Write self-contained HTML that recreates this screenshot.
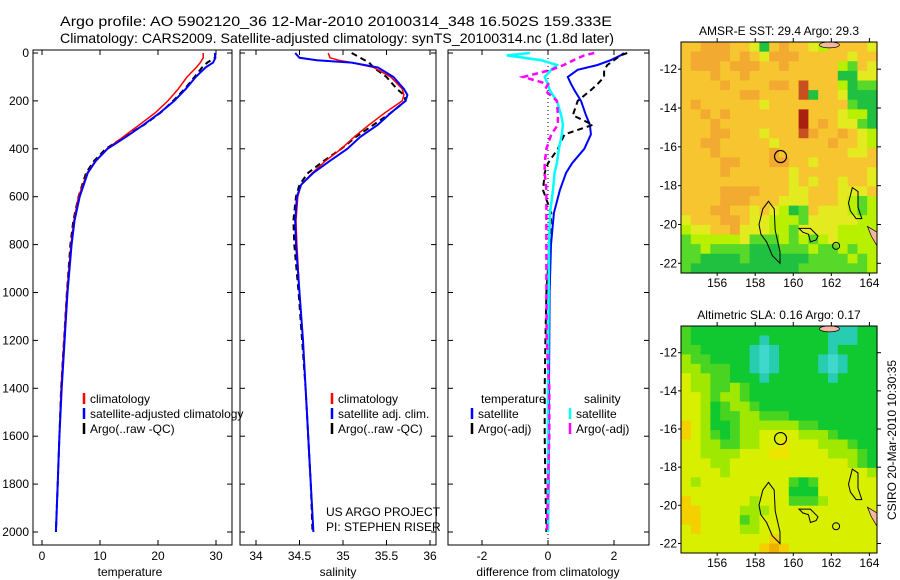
<!DOCTYPE html>
<html><head><meta charset="utf-8">
<style>
html,body{margin:0;padding:0;background:#fff;}
svg{display:block;font-family:"Liberation Sans",sans-serif;}
</style></head>
<body>
<svg id="fig" width="900" height="580" viewBox="0 0 900 580">
<rect width="900" height="580" fill="#fff"/>
<text x="336" y="26" font-size="14" text-anchor="middle" textLength="552" lengthAdjust="spacingAndGlyphs">Argo profile: AO 5902120_36 12-Mar-2010 20100314_348 16.502S 159.333E</text>
<text x="337" y="43" font-size="14" text-anchor="middle" textLength="554" lengthAdjust="spacingAndGlyphs">Climatology: CARS2009. Satellite-adjusted climatology: synTS_20100314.nc (1.8d later)</text>
<g id="plots"></g>
</svg>
<script>
// ---------- profile data ----------
const depthTicks = [0,200,400,600,800,1000,1200,1400,1600,1800,2000];
const tempTicks = [0,10,20,30];
const salTicks = [34,34.5,35,35.5,36];
const diffTicks = [-2,0,2];

const tDepth = [0,20,40,60,100,150,200,250,300,350,400,450,500,600,700,800,1000,1200,1400,1600,1800,2000];
const tClim  = [27.8,27.8,27.3,26.6,25.0,23.5,21.7,19.5,16.8,14.0,11.2,9.2,7.8,6.3,5.5,5.0,4.3,3.8,3.3,3.0,2.7,2.4];
const tSat   = [29.8,29.9,29.5,28.2,26.5,24.8,22.8,20.3,17.5,14.5,11.3,9.3,7.9,6.5,5.6,5.1,4.4,3.9,3.4,3.0,2.7,2.4];
const tArgo  = [29.9,29.8,28.5,27.6,26.3,24.6,22.6,20.4,17.6,14.2,11.0,9.0,7.6,6.3,5.4,4.9,4.3,3.8,3.3,3.0,2.7,2.4];

const sDepth = [0,20,30,40,60,100,150,175,200,250,300,350,400,450,500,550,600,700,800,1000,1200,1400,1600,1800,2000];
const sClim  = [34.83,34.85,34.95,35.1,35.35,35.55,35.68,35.7,35.68,35.48,35.3,35.13,34.98,34.8,34.65,34.52,34.48,34.46,34.47,34.5,34.54,34.57,34.6,34.63,34.66];
const sSat   = [34.45,34.5,34.7,35.1,35.4,35.58,35.7,35.74,35.72,35.55,35.4,35.2,35.05,34.85,34.66,34.52,34.47,34.45,34.46,34.5,34.54,34.57,34.6,34.63,34.66];
const sArgo  = [35.1,35.2,35.25,35.3,35.35,35.5,35.62,35.7,35.72,35.55,35.35,35.15,34.98,34.78,34.6,34.5,34.46,34.43,34.44,34.49,34.53,34.57,34.6,34.63,34.65];

const dDepth = [0,10,30,50,70,100,130,155,200,260,300,340,400,460,500,572,668,800,1000,1200,1400,1600,1800,2000];
const dTSat  = [2.3,2.2,1.9,1.5,0.9,0.6,0.7,0.8,1.0,1.15,1.27,1.3,1.1,0.73,0.55,0.36,0.18,0.09,0.05,0.04,0.03,0.02,0.02,0.0];
const dTArgo = [2.4,2.2,2.0,1.8,1.7,1.7,1.5,1.3,0.9,0.75,1.36,0.5,0.3,0.0,-0.1,-0.15,0.1,0.05,-0.05,-0.08,-0.1,-0.1,-0.08,-0.05];
const dSSat  = [-0.55,-1.25,-0.2,0.27,0.1,-0.1,0.0,0.05,0.27,0.4,0.45,0.42,0.33,0.27,0.2,0.15,0.06,0.03,0.02,0.01,0.0,0.0,0.0,0.0];
const dSArgo = [1.4,1.1,0.77,0.48,0.1,-0.75,0.0,-0.1,0.27,0.3,0.3,0.1,-0.05,-0.1,-0.1,-0.05,-0.05,-0.05,-0.05,-0.04,0.04,0.04,0.0,-0.03];

// ---------- map data ----------
const mapLon = [154.1,164.4];
const mapLatTicks = [-12,-14,-16,-18,-20,-22];
const mapLonTicks = [156,158,160,162,164];
const sstRows = [
"ooOOOooyGoOooylooooy","oOOOOoOoyOOOoooooyoo","oOOOoOOOooOooooolgoy","oooOooOoooooooooGGyy",
"ooooOooooOOorooolGgg","ooooooOOoooorGooyGGG","oOooooooyoooooooogGG","ooOoOoooooooRoooyllG",
"oooOooooooooRoOoyygG","oooOOoooyooorOooOoyl","ooOOoooooyoooooOooyl","oooOoooooOoooooooyyo",
"ooooOOoooOOooyoooooo","ooooOooooooyoooooooy","oooooooooooyoyooyooy","ooooOOOOoooyyoooyyyo",
"ooooOOOoooyyyoooylgl","oooOOooyoylGgoyyylgl","yoooOOoyylllgyyyyyll","lyyooOyyyllgyyyyllll",
"glllllyggglglglyllll","gglggggGGGggglgglgll","ggGGGGgGGGGGGgggglgl","gGGGGGGGGGGGgggggggl"];
const sstColors = {O:"#f2aa30",o:"#f6c530",y:"#e4ea20",l:"#b8f000",g:"#58d828",G:"#20c040",r:"#c85020",R:"#a82010"};
const slaRows = [
"gGGGGGGGGGGGGGGtttGG","gGGGGGGGtGGGGGGtttGG","ggGGGGGtTtGGGGGtGGGG","lggGGGGtTtGGGGtTtGGG",
"llgggGGtTtGGGGtTtGGG","yllggGGGtGGGGGGtGGGG","yllgglgGGGGGGGGGGGGG","yylgllgGGGGGGGGGGGGG",
"yylGgllgGGGGGGGGGGGG","yylGggllgggGGGGGGGGG","oylGGgllllllggGGGGGG","oylgGgllyyyylllgGGGG",
"yyllggllyyYyyylllgGG","yyllllyyyYYyyyylllgG","yyyllyyyyyyyyyyyylgG","yyyylyyyyyyyyyyyyyyl",
"ylyyyyyyyyygGgyyyyyy","yyyyyyyyyyyGGGyyyyyy","oyyyyyylyyyggglyyyyy","ooyyyylllyyyyyyyyyyy",
"ooyyyyglyyyyyyyyyyyy","yoyyyyllyyyyyyyyyyyy","yyyyyyyyyoyyyyyyyyyy","yyyyyyyyoOoyyyyyyyyy"];
const slaColors = {G:"#10c830",g:"#48d420",l:"#a0e800",y:"#d8f000",Y:"#eee400",o:"#f4d000",O:"#f0b000",t:"#28ccb0",T:"#40d8cc"};
const island1 = [[158.2,-20.0],[158.4,-19.2],[158.7,-18.8],[159.0,-19.2],[159.05,-20.3],[159.3,-21.4],[159.3,-22.0],[158.9,-21.6],[158.6,-20.9],[158.3,-20.5]];
const island2 = [[162.9,-18.9],[163.1,-18.1],[163.4,-18.3],[163.4,-19.1],[163.6,-19.7],[163.3,-19.7],[163.0,-19.3]];
const island3 = [[160.3,-20.2],[160.9,-20.2],[161.3,-20.6],[161.2,-20.8],[160.9,-20.9],[160.8,-20.5],[160.5,-20.4]];
const argoPos = [159.33,-16.5];

const NS="http://www.w3.org/2000/svg";
const root=document.getElementById('plots');
function mk(tag,attrs,parent){const e=document.createElementNS(NS,tag);for(const k in attrs)e.setAttribute(k,attrs[k]);(parent||root).appendChild(e);return e;}
function txt(x,y,s,size,anchor,parent){const t=mk('text',{x:x,y:y,'font-size':size,'text-anchor':anchor||'start'},parent);t.textContent=s;return t;}

const Y0=53, Y1=532, PT=50, PB=545;
const yD = d => Y0 + d*(Y1-Y0)/2000;
const panels = [
 {x0:33,x1:232,fx:v=>42+v*5.8,ticks:tempTicks,name:'temperature-panel',label:'temperature',lx:130},
 {x0:240,x1:436,fx:v=>256+(v-34)*87,ticks:salTicks,name:'salinity-panel',label:'salinity',lx:338},
 {x0:448,x1:649,fx:v=>548+v*33,ticks:diffTicks,name:'difference-panel',label:'difference from climatology',lx:548}
];
panels.forEach((p,pi)=>{
  const g=mk('g',{});
  
  
  const fr=mk('rect',{x:p.x0,y:PT,width:p.x1-p.x0,height:PB-PT,fill:'none',stroke:'#000','stroke-width':1},g);
  
  
  depthTicks.forEach(d=>{
    mk('line',{x1:p.x0,x2:p.x0+5,y1:yD(d),y2:yD(d),stroke:'#000'},g);
    mk('line',{x1:p.x1,x2:p.x1-5,y1:yD(d),y2:yD(d),stroke:'#000'},g);
    if(pi===0){const t=txt(p.x0-4,yD(d)+4,String(d),12,'end',g);
      
      }
  });
  p.ticks.forEach(v=>{
    const x=p.fx(v);
    mk('line',{x1:x,x2:x,y1:PT,y2:PT+5,stroke:'#000'},g);
    mk('line',{x1:x,x2:x,y1:PB,y2:PB-5,stroke:'#000'},g);
    const t=txt(x,560,String(v),12,'middle',g);
    
    
  });
  const xl=txt(p.lx,576,p.label,12,'middle',g);
  
  
});
function line(depths,vals,fx,color,w,dash,name){
  const pts=depths.map((d,i)=>fx(vals[i]).toFixed(1)+','+yD(d).toFixed(1)).join(' ');
  const a={points:pts,fill:'none',stroke:color,'stroke-width':w};
  if(dash)a['stroke-dasharray']=dash;
  const e=mk('polyline',a);
  
  
}
const zl=mk('line',{x1:548,x2:548,y1:PT,y2:PB,stroke:'#000','stroke-dasharray':'1,3'});


line(tDepth,tArgo,panels[0].fx,'#000',2,'6,4','temp-argo-line');
line(tDepth,tClim,panels[0].fx,'#f00',1.5,null,'temp-climatology-line');
line(tDepth,tSat,panels[0].fx,'#00f',2,null,'temp-satellite-line');
line(sDepth,sArgo,panels[1].fx,'#000',2,'6,4','sal-argo-line');
line(sDepth,sClim,panels[1].fx,'#f00',1.5,null,'sal-climatology-line');
line(sDepth,sSat,panels[1].fx,'#00f',2,null,'sal-satellite-line');
line(dDepth,dTSat,panels[2].fx,'#00f',2,null,'diff-temp-satellite-line');
line(dDepth,dTArgo,panels[2].fx,'#000',2,'6,4','diff-temp-argo-line');
line(dDepth,dSSat,panels[2].fx,'#00ffff',2.5,null,'diff-sal-satellite-line');
line(dDepth,dSArgo,panels[2].fx,'#ff00ff',2.5,'6,4','diff-sal-argo-line');

function leg(x,y,color,label){
  const g=mk('g',{});
  
  
  if(color)mk('line',{x1:x,x2:x,y1:y-10,y2:y+1,stroke:color,'stroke-width':2.5},g);
  txt(x+6,y,label,12,'start',g);
}
leg(84,403,'#f00','climatology');leg(84,418,'#00f','satellite-adjusted climatology');leg(84,433,'#000','Argo(..raw -QC)');
leg(332,403,'#f00','climatology');leg(332,418,'#00f','satellite adj. clim.');leg(332,433,'#000','Argo(..raw -QC)');
leg(475,403,null,'temperature');leg(472,418,'#00f','satellite');leg(472,433,'#000','Argo(-adj)');
leg(578,403,null,'salinity');leg(570,418,'#00ffff','satellite');leg(570,433,'#ff00ff','Argo(-adj)');
const cr1=txt(326,516,'US ARGO PROJECT',12);
const cr2=txt(326,531,'PI: STEPHEN RISER',12);

function drawMap(top,bottom,rows,colors,title,name){
  const x0=681,x1=877,latTop=-10.6,latBot=-22.5;
  const fx=lon=>x0+(lon-mapLon[0])*(x1-x0)/(mapLon[1]-mapLon[0]);
  const fy=lat=>top+(latTop-lat)*(bottom-top)/(latTop-latBot);
  const g=mk('g',{});
  
  
  const nr=rows.length,nc=rows[0].length,cw=(x1-x0)/nc,ch=(bottom-top)/nr;
  rows.forEach((r,i)=>{for(let j=0;j<nc;j++){
    const c=mk('rect',{x:(x0+j*cw).toFixed(2),y:(top+i*ch).toFixed(2),width:(cw+0.6).toFixed(2),height:(ch+0.6).toFixed(2),fill:colors[r[j]]},g);
    
    
  }});
  [island1,island2,island3].forEach(isl=>{
    const p=mk('polygon',{points:isl.map(q=>fx(q[0]).toFixed(1)+','+fy(q[1]).toFixed(1)).join(' '),fill:'none',stroke:'#000','stroke-width':1},g);
    
    
  });
  mk('circle',{cx:fx(162.25),cy:fy(-21.1),r:3.5,fill:'none',stroke:'#000'},g);
  mk('ellipse',{cx:fx(161.9),cy:fy(-10.75),rx:10,ry:3,fill:'#f4b8a0',stroke:'#000','stroke-width':0.7},g);
  mk('polygon',{points:`${fx(163.9)},${fy(-20.1)} ${fx(164.4)},${fy(-20.4)} ${fx(164.4)},${fy(-21.1)} ${fx(164.1)},${fy(-20.6)}`,fill:'#f4b8a0',stroke:'#000','stroke-width':0.7},g);
  const ac=mk('circle',{cx:fx(argoPos[0]),cy:fy(argoPos[1]),r:6,fill:'none',stroke:'#000','stroke-width':1.2},g);
  
  
  mk('rect',{x:x0,y:top,width:x1-x0,height:bottom-top,fill:'none',stroke:'#000'},g);
  mapLatTicks.forEach(l=>{const y=fy(l);mk('line',{x1:x1,x2:x1+4,y1:y,y2:y,stroke:'#000'},g);mk('line',{x1:x0,x2:x0-3,y1:y,y2:y,stroke:'#000'},g);
    const t=txt(x0-4,y+4,String(l),12,'end',g);});
  mapLonTicks.forEach(l=>{const x=fx(l);mk('line',{x1:x,x2:x,y1:top,y2:top-4,stroke:'#000'},g);mk('line',{x1:x,x2:x,y1:bottom,y2:bottom+3,stroke:'#000'},g);
    const t=txt(x,bottom+14,String(l),12,'middle',g);});
  const tt=txt((x0+x1)/2,top-7,title,12,'middle',g);
  
  
}
drawMap(42,273,sstRows,sstColors,'AMSR-E SST: 29.4 Argo: 29.3','sst-map');
drawMap(326,553,slaRows,slaColors,'Altimetric SLA: 0.16 Argo: 0.17','sla-map');
const cs=txt(0,0,'CSIRO 20-Mar-2010 10:30:35',12,'middle');
cs.setAttribute('transform','translate(896,440) rotate(-90)');


</script>
</body></html>
